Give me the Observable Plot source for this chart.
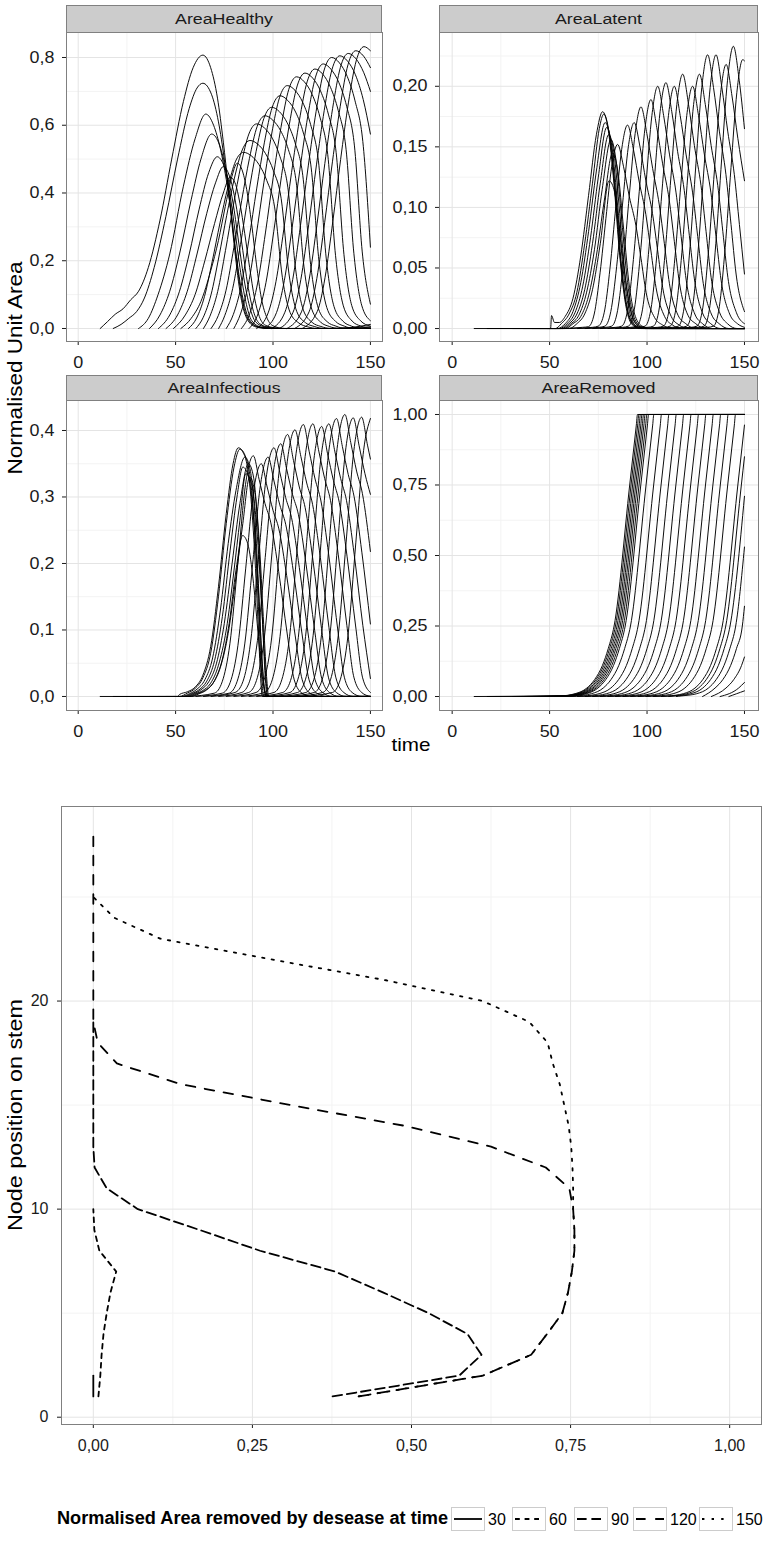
<!DOCTYPE html>
<html><head><meta charset="utf-8">
<script src="https://cdn.jsdelivr.net/npm/d3@7"></script>
<script src="https://cdn.jsdelivr.net/npm/@observablehq/plot@0.6"></script>
<style>
body{margin:0;background:#fff}
#root{position:relative;width:767px;height:1545px;overflow:hidden;font-family:"Liberation Sans",Arial,sans-serif}
</style></head><body><div id="root"></div>
<script>
// ---------- data: top facets (one list of [time, value] points per stem node) ----------
const timeTicks = [0, 50, 100, 150];
const timeMinor = [25, 75, 125];
const panelNames = ["AreaHealthy", "AreaLatent", "AreaInfectious", "AreaRemoved"];

const healthyCurves = [
[[11.3,0],[15,0.02],[19,0.042],[23,0.058],[27,0.085],[31,0.11],[36,0.18],[42,0.32],[48,0.5],[54,0.67],[59,0.77],[64,0.807],[68,0.77],[71.5,0.68],[74.5,0.55],[77,0.42],[80,0.25],[83,0.11],[86.5,0.03],[91,0.005],[97,0],[150,0]],
[[18,0],[22,0.012],[26,0.03],[30,0.05],[34,0.09],[39,0.18],[45,0.33],[51,0.5],[57,0.65],[61,0.71],[64,0.724],[68.5,0.69],[72,0.61],[75,0.5],[77.7,0.38],[80.7,0.23],[83.7,0.1],[87,0.03],[92,0.005],[98,0],[150,0]],
[[31,0],[36,0.03],[41,0.1],[47,0.22],[54,0.42],[60,0.56],[65.5,0.633],[69.5,0.6],[73,0.53],[76,0.44],[78.5,0.34],[81.5,0.2],[84.5,0.09],[88,0.025],[93,0.004],[99,0],[150,0]],
[[36.6,0],[42,0.04],[47,0.11],[52,0.22],[58,0.38],[63,0.5],[68.5,0.574],[72,0.55],[75,0.49],[77.5,0.41],[80,0.31],[83,0.18],[86,0.08],[89,0.024],[94,0.004],[100,0],[150,0]],
[[41.2,0],[47,0.04],[52,0.11],[57,0.22],[62,0.35],[67,0.46],[71.4,0.507],[74.5,0.485],[77,0.44],[79.5,0.37],[82,0.27],[85,0.15],[88,0.065],[91,0.02],[96,0.004],[102,0],[150,0]],
[[45.1,0],[51,0.04],[56,0.11],[61,0.22],[66,0.34],[70.5,0.43],[74.5,0.478],[77,0.46],[79.5,0.41],[82,0.33],[84.5,0.23],[87,0.13],[90,0.05],[93,0.015],[98,0.003],[104,0],[150,0]],
[[48.9,0],[55,0.04],[60,0.1],[65,0.2],[70,0.31],[74.5,0.4],[78,0.447],[80.5,0.43],[83,0.37],[85.5,0.28],[88,0.18],[90.5,0.09],[93,0.035],[96,0.01],[101,0.002],[106,0],[150,0]],
[[52.7,0],[58,0.03],[63,0.08],[68,0.17],[72,0.26],[75.5,0.36],[78.5,0.44],[81.7,0.488],[84,0.47],[86.5,0.41],[89,0.31],[91.5,0.19],[94,0.09],[97,0.03],[100,0.008],[106,0],[150,0]],
[[56.6,0],[60.8,0.031],[64.8,0.094],[68.8,0.198],[72.8,0.312],[76.8,0.416],[80.8,0.494],[84.8,0.52],[88.8,0.51],[92.8,0.484],[96.8,0.437],[100.8,0.359],[104.8,0.151],[108.8,0.047],[113.3,0.016],[117.8,0.005],[122.8,0],[150,0]],
[[60.4,0],[64.2,0.033],[68.2,0.1],[72.2,0.211],[76.2,0.333],[80.2,0.444],[84.2,0.527],[88.2,0.555],[92.2,0.544],[96.2,0.516],[100.2,0.466],[104.2,0.383],[108.2,0.161],[112.2,0.05],[116.7,0.017],[121.2,0.006],[126.2,0],[150,0]],
[[64.3,0],[67.6,0.036],[71.6,0.109],[75.6,0.23],[79.6,0.362],[83.6,0.483],[87.6,0.574],[91.6,0.604],[95.6,0.592],[99.6,0.562],[103.6,0.507],[107.6,0.417],[111.6,0.175],[115.6,0.054],[120.1,0.018],[124.6,0.006],[129.6,0],[150,0]],
[[68.2,0],[71.9,0.038],[75.9,0.113],[79.9,0.239],[83.9,0.377],[87.9,0.502],[91.9,0.597],[95.9,0.628],[99.9,0.615],[103.9,0.584],[107.9,0.528],[111.9,0.433],[115.9,0.182],[119.9,0.057],[124.4,0.019],[128.9,0.006],[133.9,0],[150,0]],
[[72.1,0],[75.3,0.039],[79.3,0.118],[83.3,0.248],[87.3,0.392],[91.3,0.522],[95.3,0.62],[99.3,0.653],[103.3,0.64],[107.3,0.607],[111.3,0.549],[115.3,0.451],[119.3,0.189],[123.3,0.059],[127.8,0.02],[132.3,0.007],[137.3,0],[150,0]],
[[76,0],[79.6,0.041],[83.6,0.124],[87.6,0.261],[91.6,0.412],[95.6,0.55],[99.6,0.653],[103.6,0.687],[107.6,0.673],[111.6,0.639],[115.6,0.577],[119.6,0.474],[123.6,0.199],[127.6,0.062],[132.1,0.021],[136.6,0.007],[141.6,0],[150,0]],
[[79.9,0],[83.3,0.043],[87.3,0.129],[91.3,0.272],[95.3,0.43],[99.3,0.574],[103.3,0.681],[107.3,0.717],[111.3,0.703],[115.3,0.667],[119.3,0.602],[123.3,0.495],[127.3,0.208],[131.3,0.065],[135.8,0.022],[140.3,0.007],[145.3,0],[150,0]],
[[83.8,0],[88.1,0.045],[92.1,0.134],[96.1,0.282],[100.1,0.446],[104.1,0.594],[108.1,0.706],[112.1,0.743],[116.1,0.728],[120.1,0.691],[124.1,0.624],[128.1,0.513],[132.1,0.215],[136.1,0.067],[140.6,0.022],[145.1,0.007],[150,0]],
[[87.7,0],[92.4,0.045],[96.4,0.136],[100.4,0.287],[104.4,0.452],[108.4,0.603],[112.4,0.716],[116.4,0.754],[120.4,0.739],[124.4,0.701],[128.4,0.633],[132.4,0.52],[136.4,0.219],[140.4,0.068],[144.9,0.023],[150,0.007]],
[[91.6,0],[97.5,0.046],[101.5,0.138],[105.5,0.291],[109.5,0.46],[113.5,0.613],[117.5,0.728],[121.5,0.766],[125.5,0.751],[129.5,0.712],[133.5,0.643],[137.5,0.529],[141.5,0.222],[145.5,0.069],[150,0.023]],
[[95.5,0],[101.8,0.047],[105.8,0.141],[109.8,0.297],[113.8,0.469],[117.8,0.625],[121.8,0.742],[125.8,0.781],[129.8,0.765],[133.8,0.726],[137.8,0.656],[141.8,0.539],[145.8,0.226],[150,0.072]],
[[99.4,0],[106.1,0.048],[110.1,0.144],[114.1,0.304],[118.1,0.48],[122.1,0.64],[126.1,0.76],[130.1,0.8],[134.1,0.784],[138.1,0.744],[142.1,0.672],[146.1,0.552],[150,0.24]],
[[103.3,0],[110.3,0.048],[114.3,0.145],[118.3,0.306],[122.3,0.483],[126.3,0.644],[130.3,0.765],[134.3,0.805],[138.3,0.789],[142.3,0.749],[146.3,0.676],[150,0.574]],
[[107.2,0],[114.6,0.049],[118.6,0.146],[122.6,0.309],[126.6,0.487],[130.6,0.65],[134.6,0.771],[138.6,0.812],[142.6,0.796],[146.6,0.755],[150,0.70]],
[[111.1,0],[118.5,0.049],[122.5,0.148],[126.5,0.312],[130.5,0.492],[134.5,0.656],[138.5,0.779],[142.5,0.82],[146.5,0.804],[150,0.77]],
[[115,0],[122.7,0.05],[126.7,0.15],[130.7,0.316],[134.7,0.499],[138.7,0.666],[142.7,0.79],[146.7,0.832],[150,0.82]],
[[128.5,0],[140,0.003],[150,0.012]],
[[133,0],[150,0.005]],
[[137.5,0],[150,0.002]],
[[142,0],[150,0.001]]
];

const latentCurves = [
[[11.3,0],[50.5,0],[51,0.0107],[52.5,0.005],[55,0.005],[58,0.01],[62,0.025],[66,0.06],[70,0.11],[74,0.16],[77.2,0.179],[80,0.165],[83,0.12],[86,0.06],[89,0.02],[92,0.004],[96,0],[150,0]],
[[18,0],[53,0],[56,0.004],[60,0.012],[64,0.03],[68,0.07],[72,0.12],[75.5,0.165],[77.8,0.177],[80.5,0.162],[83.5,0.115],[86.5,0.055],[89.5,0.018],[93,0.003],[97,0],[150,0]],
[[31,0],[54,0],[58,0.004],[62,0.014],[66,0.038],[70,0.08],[74,0.13],[78.5,0.17],[81,0.158],[84,0.11],[87,0.05],[90,0.016],[93.5,0.003],[98,0],[150,0]],
[[36.6,0],[55,0],[59,0.004],[63,0.013],[67,0.035],[71,0.075],[75,0.125],[79.3,0.166],[82,0.15],[85,0.1],[88,0.045],[91,0.014],[94.5,0.002],[99,0],[150,0]],
[[41.2,0],[56,0],[60,0.004],[64,0.012],[68,0.032],[72,0.07],[76,0.12],[80.3,0.16],[83,0.145],[86,0.095],[89,0.04],[92,0.012],[95.5,0.002],[100,0],[150,0]],
[[45.1,0],[57,0],[61,0.004],[65,0.011],[69,0.03],[73,0.065],[77,0.115],[81.5,0.156],[84,0.14],[87,0.09],[90,0.038],[93,0.011],[96.5,0.002],[101,0],[150,0]],
[[48.9,0],[58,0],[62,0.004],[66,0.01],[70,0.027],[74,0.06],[78,0.105],[82.3,0.145],[85,0.13],[88,0.082],[91,0.034],[94,0.01],[97.5,0.002],[102,0],[150,0]],
[[52.7,0],[60,0],[64,0.004],[68,0.012],[72,0.032],[76,0.07],[80.5,0.122],[83,0.115],[86,0.08],[89,0.04],[92,0.013],[95,0.003],[99,0],[150,0]],
[[56.6,0],[66.9,0.001],[69.9,0.0015],[72.9,0.012],[75.9,0.046],[78.9,0.091],[81.9,0.134],[84.9,0.152],[87.9,0.134],[90.9,0.109],[94.3,0.085],[96.9,0.058],[99.5,0.03],[103.9,0.009],[107.9,0.003],[112.9,0],[150,0]],
[[60.4,0],[72,0.001],[75,0.002],[78,0.013],[81,0.05],[84,0.101],[87,0.148],[90,0.168],[93,0.148],[96,0.121],[99.4,0.094],[102,0.064],[104.6,0.034],[109,0.01],[113,0.003],[118,0],[150,0]],
[[64.3,0],[75.4,0.001],[78.4,0.002],[81.4,0.014],[84.4,0.051],[87.4,0.102],[90.4,0.15],[93.4,0.17],[96.4,0.15],[99.4,0.122],[102.8,0.095],[105.4,0.065],[108,0.034],[112.4,0.01],[116.4,0.003],[121.4,0],[150,0]],
[[68.2,0],[78.9,0.001],[81.9,0.002],[84.9,0.015],[87.9,0.055],[90.9,0.11],[93.9,0.161],[96.9,0.183],[99.9,0.161],[102.9,0.132],[106.3,0.102],[108.9,0.07],[111.5,0.037],[115.9,0.011],[119.9,0.004],[124.9,0],[150,0]],
[[72.1,0],[84,0.001],[87,0.002],[90,0.015],[93,0.057],[96,0.113],[99,0.166],[102,0.189],[105,0.166],[108,0.136],[111.4,0.106],[114,0.072],[116.6,0.038],[121,0.011],[125,0.004],[130,0],[150,0]],
[[76,0],[87.5,0.001],[90.5,0.002],[93.5,0.016],[96.5,0.06],[99.5,0.12],[102.5,0.176],[105.5,0.2],[108.5,0.176],[111.5,0.144],[114.9,0.112],[117.5,0.076],[120.1,0.04],[124.5,0.012],[128.5,0.004],[133.5,0],[150,0]],
[[79.9,0],[91.7,0.001],[94.7,0.002],[97.7,0.016],[100.7,0.061],[103.7,0.122],[106.7,0.179],[109.7,0.203],[112.7,0.179],[115.7,0.146],[119.1,0.114],[121.7,0.077],[124.3,0.041],[128.7,0.012],[132.7,0.004],[137.7,0],[150,0]],
[[83.8,0],[96,0.001],[99,0.002],[102,0.016],[105,0.06],[108,0.12],[111,0.176],[114,0.2],[117,0.176],[120,0.144],[123.4,0.112],[126,0.076],[128.6,0.04],[133,0.012],[137,0.004],[142,0],[150,0]],
[[87.7,0],[100.3,0.001],[103.3,0.002],[106.3,0.017],[109.3,0.063],[112.3,0.126],[115.3,0.185],[118.3,0.21],[121.3,0.185],[124.3,0.151],[127.7,0.118],[130.3,0.08],[132.9,0.042],[137.3,0.013],[141.3,0.004],[146.3,0],[150,0]],
[[91.6,0],[105.4,0.001],[108.4,0.002],[111.4,0.016],[114.4,0.06],[117.4,0.12],[120.4,0.176],[123.4,0.2],[126.4,0.176],[129.4,0.144],[132.8,0.112],[135.4,0.076],[138,0.04],[142.4,0.012],[146.4,0.004],[150,0.001]],
[[95.5,0],[108.9,0.001],[111.9,0.002],[114.9,0.017],[117.9,0.063],[120.9,0.126],[123.9,0.185],[126.9,0.21],[129.9,0.185],[132.9,0.151],[136.3,0.118],[138.9,0.08],[141.5,0.042],[145.9,0.013],[150,0.004]],
[[99.4,0],[113.1,0.001],[116.1,0.002],[119.1,0.018],[122.1,0.068],[125.1,0.136],[128.1,0.199],[131.1,0.226],[134.1,0.199],[137.1,0.163],[140.5,0.127],[143.1,0.086],[145.7,0.045],[150,0.014]],
[[103.3,0],[117.4,0.001],[120.4,0.002],[123.4,0.018],[126.4,0.068],[129.4,0.136],[132.4,0.199],[135.4,0.226],[138.4,0.199],[141.4,0.163],[144.8,0.127],[147.4,0.086],[150,0.045]],
[[107.2,0],[122.6,0.001],[125.6,0.002],[128.6,0.017],[131.6,0.065],[134.6,0.131],[137.6,0.192],[140.6,0.218],[143.6,0.192],[146.6,0.157],[150,0.122]],
[[111.1,0],[126.3,0.001],[129.3,0.002],[132.3,0.019],[135.3,0.07],[138.3,0.14],[141.3,0.205],[144.3,0.233],[147.3,0.205],[150,0.165]],
[[115,0],[131.1,0.001],[134.1,0.002],[137.1,0.018],[140.1,0.067],[143.1,0.133],[146.1,0.195],[149.1,0.222],[150,0.221]],
[[128.5,0],[150,0]],
[[133,0],[150,0]],
[[137.5,0],[150,0]],
[[142,0],[150,0]]
];

const infectiousCurves = [
[[11.3,0],[51,0],[52,0.003],[56,0.007],[60,0.014],[64,0.032],[68,0.075],[72,0.165],[76,0.275],[79.5,0.35],[82.2,0.374],[85,0.365],[88,0.32],[90.5,0.22],[92.5,0.1],[93.8,0.02],[94.5,0],[150,0]],
[[18,0],[52,0],[56,0.005],[60,0.012],[64,0.028],[68,0.065],[72,0.15],[76,0.26],[80,0.345],[83,0.372],[86,0.36],[89,0.31],[91.3,0.21],[93.2,0.09],[94.5,0.015],[95.3,0],[150,0]],
[[31,0],[53,0],[57,0.004],[61,0.011],[65,0.025],[69,0.058],[73,0.13],[77,0.23],[81,0.31],[85.6,0.36],[88,0.345],[90.5,0.28],[92.5,0.17],[94.2,0.06],[95.5,0.01],[96.3,0],[150,0]],
[[36.6,0],[54,0],[58,0.004],[62,0.01],[66,0.023],[70,0.054],[74,0.12],[78,0.22],[81.5,0.3],[84.5,0.345],[87.5,0.33],[90,0.27],[92.5,0.16],[94.5,0.05],[95.8,0.008],[96.6,0],[150,0]],
[[41.2,0],[55,0],[59,0.004],[63,0.01],[67,0.022],[71,0.05],[75,0.11],[79,0.2],[83,0.29],[87.4,0.35],[90,0.33],[92.5,0.24],[94.5,0.12],[96,0.03],[97,0],[150,0]],
[[45.1,0],[56,0],[60,0.004],[64,0.009],[68,0.02],[72,0.047],[76,0.1],[80,0.19],[83,0.265],[86,0.335],[89,0.32],[92,0.24],[94.5,0.12],[96.3,0.03],[97.3,0],[150,0]],
[[48.9,0],[57,0],[61,0.004],[65,0.009],[69,0.019],[73,0.044],[77,0.095],[81,0.18],[84.5,0.26],[88,0.33],[90.5,0.31],[93,0.23],[95,0.12],[96.7,0.03],[97.8,0],[150,0]],
[[52.7,0],[58,0],[62,0.004],[66,0.01],[70,0.024],[74,0.056],[77.5,0.11],[81,0.19],[84.4,0.242],[87,0.23],[90,0.17],[92.5,0.09],[94.5,0.03],[96,0.005],[97,0],[150,0]],
[[56.6,0],[69.9,0.005],[73.9,0.022],[77.9,0.08],[81.9,0.199],[85.9,0.319],[89.9,0.362],[92.9,0.326],[95.9,0.29],[98.9,0.261],[102.9,0.188],[107.3,0.094],[110.9,0.025],[114.9,0.005],[119.9,0],[150,0]],
[[60.4,0],[74,0.005],[78,0.021],[82,0.077],[86,0.193],[90,0.308],[94,0.35],[97,0.315],[100,0.28],[103,0.252],[107,0.182],[111.4,0.091],[115,0.025],[119,0.005],[124,0],[150,0]],
[[64.3,0],[77.5,0.005],[81.5,0.022],[85.5,0.079],[89.5,0.198],[93.5,0.317],[97.5,0.36],[100.5,0.324],[103.5,0.288],[106.5,0.259],[110.5,0.187],[114.9,0.094],[118.5,0.025],[122.5,0.005],[127.5,0],[150,0]],
[[68.2,0],[80.5,0.006],[84.5,0.022],[88.5,0.082],[92.5,0.206],[96.5,0.329],[100.5,0.374],[103.5,0.337],[106.5,0.299],[109.5,0.269],[113.5,0.194],[117.9,0.097],[121.5,0.026],[125.5,0.006],[130.5,0],[150,0]],
[[72.1,0],[84,0.006],[88,0.023],[92,0.084],[96,0.209],[100,0.334],[104,0.38],[107,0.342],[110,0.304],[113,0.274],[117,0.198],[121.4,0.099],[125,0.027],[129,0.006],[134,0],[150,0]],
[[76,0],[87.5,0.006],[91.5,0.024],[95.5,0.087],[99.5,0.217],[103.5,0.347],[107.5,0.394],[110.5,0.355],[113.5,0.315],[116.5,0.284],[120.5,0.205],[124.9,0.102],[128.5,0.028],[132.5,0.006],[137.5,0],[150,0]],
[[79.9,0],[91.3,0.006],[95.3,0.024],[99.3,0.088],[103.3,0.221],[107.3,0.353],[111.3,0.401],[114.3,0.361],[117.3,0.321],[120.3,0.289],[124.3,0.209],[128.7,0.104],[132.3,0.028],[136.3,0.006],[141.3,0],[150,0]],
[[83.8,0],[95.6,0.006],[99.6,0.025],[103.6,0.09],[107.6,0.225],[111.6,0.36],[115.6,0.409],[118.6,0.368],[121.6,0.327],[124.6,0.294],[128.6,0.213],[133,0.106],[136.6,0.029],[140.6,0.006],[145.6,0],[150,0]],
[[87.7,0],[100.5,0.006],[104.5,0.025],[108.5,0.09],[112.5,0.226],[116.5,0.361],[120.5,0.41],[123.5,0.369],[126.5,0.328],[129.5,0.295],[133.5,0.213],[137.9,0.107],[141.5,0.029],[145.5,0.006],[150,0]],
[[91.6,0],[105,0.006],[109,0.024],[113,0.089],[117,0.223],[121,0.357],[125,0.406],[128,0.365],[131,0.325],[134,0.292],[138,0.211],[142.4,0.106],[146,0.028],[150,0.006]],
[[95.5,0],[108.7,0.006],[112.7,0.025],[116.7,0.09],[120.7,0.226],[124.7,0.361],[128.7,0.41],[131.7,0.369],[134.7,0.328],[137.7,0.295],[141.7,0.213],[146.1,0.107],[150,0.027]],
[[99.4,0],[112.6,0.006],[116.6,0.025],[120.6,0.092],[124.6,0.23],[128.6,0.368],[132.6,0.418],[135.6,0.376],[138.6,0.334],[141.6,0.301],[145.6,0.217],[150,0.109]],
[[103.3,0],[116.9,0.006],[120.9,0.025],[124.9,0.093],[128.9,0.233],[132.9,0.373],[136.9,0.424],[139.9,0.382],[142.9,0.339],[145.9,0.305],[150,0.218]],
[[107.2,0],[121.2,0.006],[125.2,0.025],[129.2,0.092],[133.2,0.23],[137.2,0.369],[141.2,0.419],[144.2,0.377],[147.2,0.335],[150,0.304]],
[[111.1,0],[125.5,0.006],[129.5,0.025],[133.5,0.092],[137.5,0.231],[141.5,0.37],[145.5,0.42],[148.5,0.378],[150,0.357]],
[[115,0],[130.5,0.006],[134.5,0.025],[138.5,0.092],[142.5,0.231],[146.5,0.37],[150,0.418]],
[[128.5,0],[150,0]],
[[133,0],[150,0]],
[[137.5,0],[150,0]],
[[142,0],[150,0]]
];

const removedCurves = [
[[11.3,0],[55.1,0.002],[63.1,0.01],[69.1,0.03],[73.1,0.06],[77.1,0.11],[80.1,0.17],[83.1,0.25],[91.1,0.75],[94.5,0.9625],[95.1,1],[150,1]],
[[18,0],[55.8,0.002],[63.8,0.01],[69.8,0.03],[73.8,0.06],[77.8,0.11],[80.8,0.17],[83.8,0.25],[91.8,0.75],[95.2,0.9625],[95.8,1],[150,1]],
[[31,0],[56.6,0.002],[64.6,0.01],[70.6,0.03],[74.6,0.06],[78.6,0.11],[81.6,0.17],[84.6,0.25],[92.6,0.75],[96,0.9625],[96.6,1],[150,1]],
[[36.6,0],[57.4,0.002],[65.4,0.01],[71.4,0.03],[75.4,0.06],[79.4,0.11],[82.4,0.17],[85.4,0.25],[93.4,0.75],[96.8,0.9625],[97.4,1],[150,1]],
[[41.2,0],[58.2,0.002],[66.2,0.01],[72.2,0.03],[76.2,0.06],[80.2,0.11],[83.2,0.17],[86.2,0.25],[94.2,0.75],[97.6,0.9625],[98.2,1],[150,1]],
[[45.1,0],[59,0.002],[67,0.01],[73,0.03],[77,0.06],[81,0.11],[84,0.17],[87,0.25],[95,0.75],[98.4,0.9625],[99,1],[150,1]],
[[48.9,0],[59.9,0.002],[67.9,0.01],[73.9,0.03],[77.9,0.06],[81.9,0.11],[84.9,0.17],[87.9,0.25],[95.9,0.75],[99.3,0.9625],[99.9,1],[150,1]],
[[52.7,0],[60.8,0.002],[68.8,0.01],[74.8,0.03],[78.8,0.06],[82.8,0.11],[85.8,0.17],[88.8,0.25],[96.8,0.75],[100.2,0.9625],[100.8,1],[150,1]],
[[56.6,0],[63.5,0.002],[71.5,0.01],[77.5,0.03],[81.5,0.06],[85.5,0.11],[88.5,0.17],[91.5,0.25],[99.5,0.75],[102.9,0.9625],[103.5,1],[150,1]],
[[60.4,0],[67.4,0.002],[75.4,0.01],[81.4,0.03],[85.4,0.06],[89.4,0.11],[92.4,0.17],[95.4,0.25],[103.4,0.75],[106.8,0.9625],[107.4,1],[150,1]],
[[64.3,0],[71.2,0.002],[79.2,0.01],[85.2,0.03],[89.2,0.06],[93.2,0.11],[96.2,0.17],[99.2,0.25],[107.2,0.75],[110.6,0.9625],[111.2,1],[150,1]],
[[68.2,0],[75,0.002],[83,0.01],[89,0.03],[93,0.06],[97,0.11],[100,0.17],[103,0.25],[111,0.75],[114.4,0.9625],[115,1],[150,1]],
[[72.1,0],[78.8,0.002],[86.8,0.01],[92.8,0.03],[96.8,0.06],[100.8,0.11],[103.8,0.17],[106.8,0.25],[114.8,0.75],[118.2,0.9625],[118.8,1],[150,1]],
[[76,0],[82.6,0.002],[90.6,0.01],[96.6,0.03],[100.6,0.06],[104.6,0.11],[107.6,0.17],[110.6,0.25],[118.6,0.75],[122,0.9625],[122.6,1],[150,1]],
[[79.9,0],[86.4,0.002],[94.4,0.01],[100.4,0.03],[104.4,0.06],[108.4,0.11],[111.4,0.17],[114.4,0.25],[122.4,0.75],[125.8,0.9625],[126.4,1],[150,1]],
[[83.8,0],[90.2,0.002],[98.2,0.01],[104.2,0.03],[108.2,0.06],[112.2,0.11],[115.2,0.17],[118.2,0.25],[126.2,0.75],[129.6,0.9625],[130.2,1],[150,1]],
[[87.7,0],[94,0.002],[102,0.01],[108,0.03],[112,0.06],[116,0.11],[119,0.17],[122,0.25],[130,0.75],[133.4,0.9625],[134,1],[150,1]],
[[91.6,0],[97.8,0.002],[105.8,0.01],[111.8,0.03],[115.8,0.06],[119.8,0.11],[122.8,0.17],[125.8,0.25],[133.8,0.75],[137.2,0.9625],[137.8,1],[150,1]],
[[95.5,0],[101.6,0.002],[109.6,0.01],[115.6,0.03],[119.6,0.06],[123.6,0.11],[126.6,0.17],[129.6,0.25],[137.6,0.75],[141,0.9625],[141.6,1],[150,1]],
[[99.4,0],[105.4,0.002],[113.4,0.01],[119.4,0.03],[123.4,0.06],[127.4,0.11],[130.4,0.17],[133.4,0.25],[141.4,0.75],[144.8,0.9625],[145.4,1],[150,1]],
[[103.3,0],[110.6,0.002],[118.6,0.01],[124.6,0.03],[128.6,0.06],[132.6,0.11],[135.6,0.17],[138.6,0.25],[146.6,0.75],[150,0.9625]],
[[107.2,0],[112.4,0.002],[120.4,0.01],[126.4,0.03],[130.4,0.06],[134.4,0.11],[137.4,0.17],[140.4,0.25],[148.4,0.75],[150,0.85]],
[[111.1,0],[114.6,0.002],[122.6,0.01],[128.6,0.03],[132.6,0.06],[136.6,0.11],[139.6,0.17],[142.6,0.25],[150,0.71]],
[[115,0],[117.5,0.002],[125.5,0.01],[131.5,0.03],[135.5,0.06],[139.5,0.11],[142.5,0.17],[145.5,0.25],[150,0.53]],
[[128.5,0],[134.9,0.03],[138.9,0.06],[142.9,0.11],[145.9,0.17],[148.9,0.25],[150,0.32]],
[[133,0],[140.5,0.03],[144.5,0.06],[148.5,0.11],[150,0.14]],
[[137.5,0],[147,0.03],[150,0.05]],
[[142,0],[146,0.01],[150,0.02]]
];

const healthyTicks = [0, 0.2, 0.4, 0.6, 0.8], healthyMinor = [0.1, 0.3, 0.5, 0.7];
const latentTicks = [0, 0.05, 0.1, 0.15, 0.2], latentMinor = [0.025, 0.075, 0.125, 0.175, 0.225];
const infectiousTicks = [0, 0.1, 0.2, 0.3, 0.4], infectiousMinor = [0.05, 0.15, 0.25, 0.35];
const removedTicks = [0, 0.25, 0.5, 0.75, 1], removedMinor = [0.125, 0.375, 0.625, 0.875];

// ---------- data: bottom chart (area removed per node, nodes 1..n) ----------
const legendTimes = [30, 60, 90, 120, 150];
const removedAt30 = [0, 0];
const removedAt60 = [0.008, 0.011, 0.013, 0.016, 0.021, 0.027, 0.036, 0.0095, 0.0016, 0];
const removedAt90 = [0.376, 0.575, 0.61, 0.588, 0.527, 0.455, 0.38, 0.262, 0.167, 0.07, 0.021, 0.002, 0, 0, 0, 0, 0, 0, 0];
const removedAt120 = [0.417, 0.612, 0.688, 0.713, 0.737, 0.746, 0.752, 0.756, 0.756, 0.754, 0.748, 0.711, 0.625, 0.49, 0.31, 0.138, 0.037, 0.007, 0, 0, 0, 0, 0, 0, 0, 0, 0, 0];
const removedAt150 = [0.417, 0.612, 0.688, 0.713, 0.737, 0.746, 0.752, 0.756, 0.756, 0.754, 0.754, 0.753, 0.751, 0.747, 0.74, 0.733, 0.722, 0.714, 0.685, 0.612, 0.46, 0.28, 0.105, 0.033, 0];
const areaTicks = [0, 0.25, 0.5, 0.75, 1], areaMinor = [0.125, 0.375, 0.625, 0.875];
const nodeTicks = [0, 10, 20], nodeMinor = [5, 15, 25];

// ---------- drawing ----------
const root = document.getElementById("root");
const FONT = '"Liberation Sans", Arial, Helvetica, sans-serif';
const fmtDec = n => d => n === 0 ? String(d) : d.toFixed(n).replace(".", ",");
function place(el, left, top) {
  el.style.position = "absolute"; el.style.left = left + "px"; el.style.top = top + "px";
  root.appendChild(el);
}
function stretchText(svg, f) {
  svg.querySelectorAll("text").forEach(t => {
    const w = t.getComputedTextLength();
    if (w > 0) { t.setAttribute("textLength", (w * f).toFixed(1)); t.setAttribute("lengthAdjust", "spacingAndGlyphs"); }
  });
}

function facet(curves, o) {
  const rows = curves.flatMap((c, i) => c.map(([t, v]) => ({t, v, node: i + 1})));
  const mL = 58, mR = 1, mT = 1, mB = 36;
  const svg = Plot.plot({
    width: o.w + mL + mR, height: o.h + mT + mB,
    marginLeft: mL, marginRight: mR, marginTop: mT, marginBottom: mB,
    style: {fontFamily: FONT, fontSize: "16px", color: "#1a1a1a", background: "transparent", overflow: "visible"},
    x: {domain: o.xDomain, ticks: timeTicks, tickFormat: d => String(d), tickSize: 4, tickPadding: 11, label: null},
    y: {domain: o.yDomain, ticks: o.yTicks, tickFormat: fmtDec(o.dec), tickSize: 4, tickPadding: 8, label: null},
    marks: [
      Plot.ruleX(timeMinor, {stroke: "#f3f3f3"}),
      Plot.ruleY(o.yMinor, {stroke: "#f3f3f3"}),
      Plot.ruleX(timeTicks, {stroke: "#e4e4e4"}),
      Plot.ruleY(o.yTicks, {stroke: "#e4e4e4"}),
      Plot.line(rows, {x: "t", y: "v", z: "node", curve: "monotone-x", stroke: "#000", strokeWidth: 0.95}),
      Plot.frame({stroke: "#808080"})
    ]
  });
  place(svg, o.left - mL, o.top - mT);
  stretchText(svg, 1.12);
}

facet(healthyCurves, {left: 66, top: 32, w: 316, h: 309, xDomain: [-6.0, 156.2], yDomain: [-0.0384, 0.8738], yTicks: healthyTicks, yMinor: healthyMinor, dec: 1});
facet(latentCurves, {left: 439, top: 32, w: 319, h: 309, xDomain: [-6.5, 157.2], yDomain: [-0.0107, 0.2444], yTicks: latentTicks, yMinor: latentMinor, dec: 2});
facet(infectiousCurves, {left: 66, top: 400, w: 316, h: 310, xDomain: [-6.0, 156.2], yDomain: [-0.0211, 0.4451], yTicks: infectiousTicks, yMinor: infectiousMinor, dec: 1});
facet(removedCurves, {left: 439, top: 400, w: 319, h: 310, xDomain: [-6.5, 157.2], yDomain: [-0.0496, 1.0496], yTicks: removedTicks, yMinor: removedMinor, dec: 2});

// bottom chart
const dashes = [null, "4.8,4.8", "9.6,4.8", "9.6,9.6", "2.4,7.2"];
const bottomSeries = [removedAt30, removedAt60, removedAt90, removedAt120, removedAt150];
{
  const mL = 55, mR = 6, mT = 1, mB = 36, w = 700, h = 618;
  const svg = Plot.plot({
    width: w + mL + mR, height: h + mT + mB,
    marginLeft: mL, marginRight: mR, marginTop: mT, marginBottom: mB,
    style: {fontFamily: FONT, fontSize: "16px", color: "#1a1a1a", background: "transparent", overflow: "visible"},
    x: {domain: [-0.05, 1.05], ticks: areaTicks, tickFormat: fmtDec(2), tickSize: 4, tickPadding: 11, label: null},
    y: {domain: [-0.35, 29.35], ticks: nodeTicks, tickFormat: d => String(d), tickSize: 4, tickPadding: 9, label: null},
    marks: [
      Plot.ruleX(areaMinor, {stroke: "#f3f3f3"}),
      Plot.ruleY(nodeMinor, {stroke: "#f3f3f3"}),
      Plot.ruleX(areaTicks, {stroke: "#e4e4e4"}),
      Plot.ruleY(nodeTicks, {stroke: "#e4e4e4"}),
      ...bottomSeries.map((vals, k) => Plot.line(vals.map((a, i) => ({area: a, node: i + 1, time: legendTimes[k]})),
        {x: "area", y: "node", stroke: "#000", strokeWidth: 1.8, strokeDasharray: dashes[k] || undefined})),
      Plot.frame({stroke: "#808080"})
    ]
  });
  place(svg, 61 - mL, 806 - mT);
}

// overlay: strips, axis titles, legend
{
  const strips = [
    {x: 66, y: 5, w: 316, h: 27, name: panelNames[0], tl: 98},
    {x: 439, y: 5, w: 319, h: 27, name: panelNames[1], tl: 87},
    {x: 66, y: 375, w: 316, h: 25, name: panelNames[2], tl: 113},
    {x: 439, y: 375, w: 319, h: 25, name: panelNames[3], tl: 114}
  ];
  let s = `<svg xmlns="http://www.w3.org/2000/svg" width="767" height="1545" style="font-family:${FONT.replace(/"/g, "'")};pointer-events:none">`;
  for (const st of strips) {
    s += `<rect x="${st.x + 0.5}" y="${st.y + 0.5}" width="${st.w - 1}" height="${st.h}" fill="#cccccc" stroke="#808080" stroke-width="1"/>`;
    s += `<text x="${st.x + st.w / 2}" y="${st.y + st.h / 2 + 5.5}" text-anchor="middle" font-size="15.5" fill="#1a1a1a" textLength="${st.tl}" lengthAdjust="spacingAndGlyphs">${st.name}</text>`;
  }
  s += `<text transform="translate(21.5,368) rotate(-90)" text-anchor="middle" font-size="20" fill="#000" textLength="213" lengthAdjust="spacingAndGlyphs">Normalised Unit Area</text>`;
  s += `<text x="411" y="751" text-anchor="middle" font-size="19" fill="#000" textLength="39" lengthAdjust="spacingAndGlyphs">time</text>`;
  s += `<text transform="translate(21.5,1115) rotate(-90)" text-anchor="middle" font-size="20" fill="#000" textLength="232" lengthAdjust="spacingAndGlyphs">Node position on stem</text>`;
  // legend
  s += `<text x="57" y="1524" font-size="18" font-weight="bold" fill="#000" textLength="391" lengthAdjust="spacingAndGlyphs">Normalised Area removed by desease at time</text>`;
  const boxX = [451, 512, 574, 633, 699];
  legendTimes.forEach((t, k) => {
    const bx = boxX[k];
    s += `<rect x="${bx + 0.5}" y="1507.5" width="33" height="23" fill="#fff" stroke="#cccccc" stroke-width="1"/>`;
    s += `<line x1="${bx + 3}" x2="${bx + 31}" y1="1519" y2="1519" stroke="#000" stroke-width="1.8"${dashes[k] ? ` stroke-dasharray="${dashes[k]}"` : ""}/>`;
    s += `<text x="${bx + 37}" y="1524.5" font-size="16" fill="#000">${t}</text>`;
  });
  s += `</svg>`;
  const div = document.createElement("div");
  div.innerHTML = s;
  const ov = div.firstChild;
  place(ov, 0, 0);
}
</script></body></html>
